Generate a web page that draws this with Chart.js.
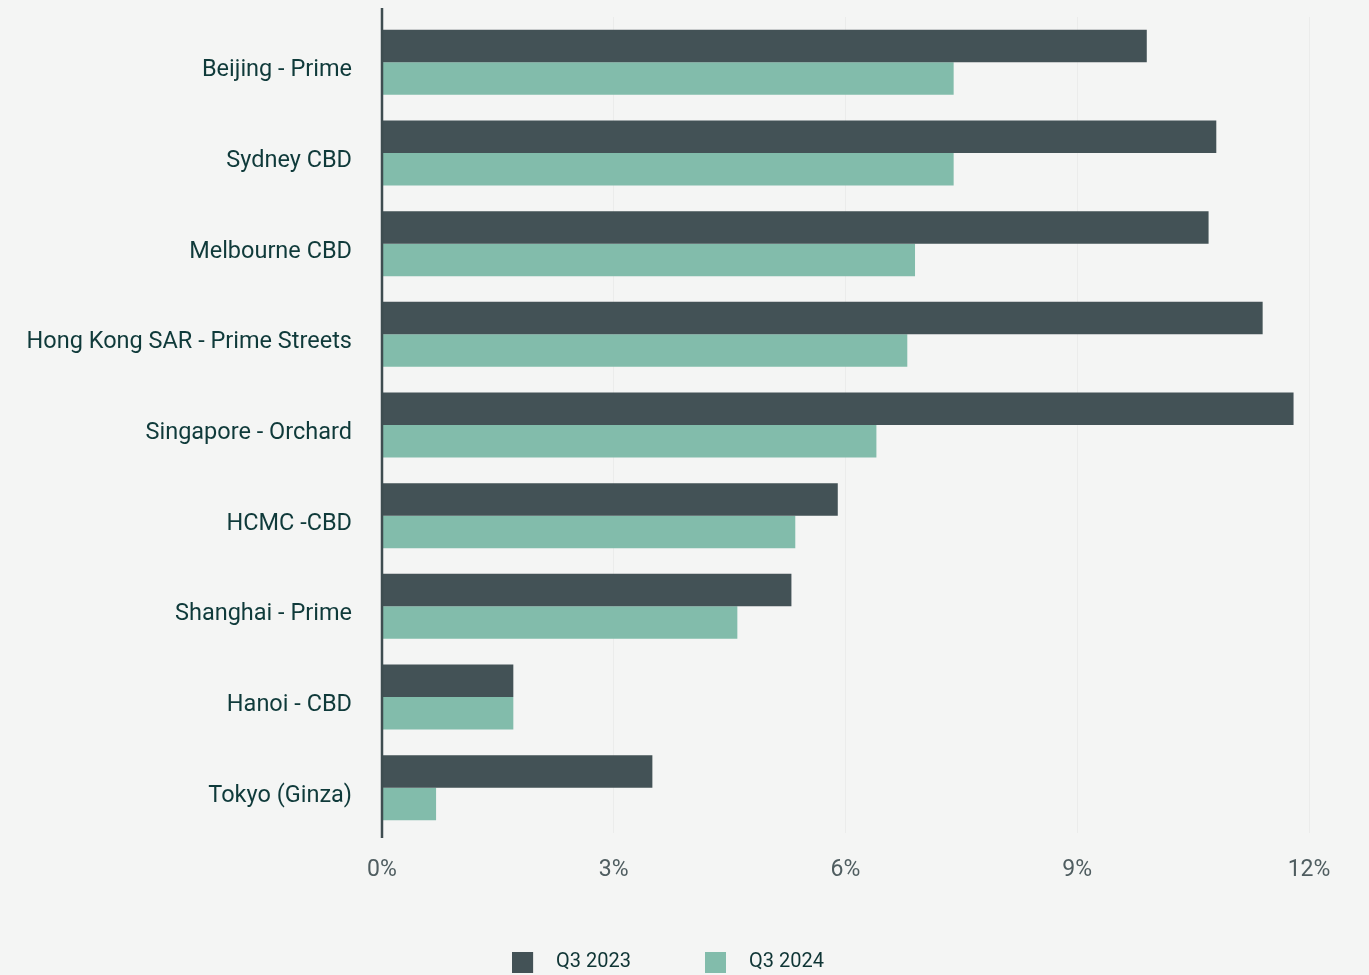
<!DOCTYPE html>
<html>
<head>
<meta charset="utf-8">
<script src="https://cdn.jsdelivr.net/npm/chart.js@4.4.1/dist/chart.umd.min.js"></script>
<style>
  html, body { margin: 0; padding: 0; background: #f4f5f4; }
  #wrap { width: 1369px; height: 975px; }
</style>
</head>
<body>
<div id="wrap"><canvas id="yields"></canvas></div>
<script>
const categories = [
  'Beijing - Prime',
  'Sydney CBD',
  'Melbourne CBD',
  'Hong Kong SAR - Prime Streets',
  'Singapore - Orchard',
  'HCMC -CBD',
  'Shanghai - Prime',
  'Hanoi - CBD',
  'Tokyo (Ginza)'
];
const q3_2023 = [9.9, 10.8, 10.7, 11.4, 11.8, 5.9, 5.3, 1.7, 3.5];
const q3_2024 = [7.4, 7.4, 6.9, 6.8, 6.4, 5.35, 4.6, 1.7, 0.7];
const xTicks = [0, 3, 6, 9, 12];

const DARK = '#435256';
const GREEN = '#82bcab';
const FONT = 'Roboto';

// legend swatch: 21px square with empty space after it, so the text sits further right
function swatch(color) {
  const c = document.createElement('canvas');
  c.width = 34;
  c.height = 21;
  const g = c.getContext('2d');
  g.fillStyle = color;
  g.fillRect(0, 0, 21, 21);
  return c;
}

// y axis line reaching a bit past the plot area
const axisLine = {
  id: 'axisLine',
  afterDatasetsDraw(chart) {
    const { ctx, chartArea, scales } = chart;
    const x = scales.x.getPixelForValue(0);
    ctx.save();
    ctx.strokeStyle = '#3e4d50';
    ctx.lineWidth = 2.5;
    ctx.beginPath();
    ctx.moveTo(x, chartArea.top - 9);
    ctx.lineTo(x, chartArea.bottom + 5);
    ctx.stroke();
    ctx.restore();
  }
};

new Chart(document.getElementById('yields'), {
  type: 'bar',
  data: {
    labels: categories,
    datasets: [
      { label: 'Q3 2023', data: q3_2023, backgroundColor: DARK },
      { label: 'Q3 2024', data: q3_2024, backgroundColor: GREEN }
    ]
  },
  options: {
    indexAxis: 'y',
    responsive: true,
    maintainAspectRatio: false,
    animation: false,
    layout: { padding: { left: 27, right: 60, top: 17, bottom: 0 } },
    datasets: {
      bar: { categoryPercentage: 0.717, barPercentage: 1.0, borderWidth: 0 }
    },
    scales: {
      x: {
        min: 0,
        max: 12,
        afterBuildTicks(scale) {
          scale.ticks = xTicks.map(v => ({ value: v }));
        },
        afterFit(scale) {
          scale.height = 45;
          scale.paddingLeft = 0;
          scale.paddingRight = 0;
        },
        border: { display: false },
        grid: { color: '#ebeceb', lineWidth: 1, drawTicks: false },
        ticks: {
          padding: 23,
          color: '#4f5d60',
          font: { family: FONT, size: 23 },
          callback: v => v + '%'
        }
      },
      y: {
        afterFit(scale) {
          scale.width = 382 - 27;
          scale.paddingTop = 0;
          scale.paddingBottom = 0;
        },
        border: { display: false },
        grid: { display: false, drawTicks: false },
        ticks: {
          padding: 30,
          labelOffset: 8,
          color: '#0f3a3a',
          font: { family: FONT, size: 23.5 }
        }
      }
    },
    plugins: {
      tooltip: { enabled: false },
      legend: {
        position: 'bottom',
        maxHeight: 97,
        labels: {
          usePointStyle: true,
          pointStyleWidth: 34,
          boxHeight: 21,
          padding: 74,
          color: '#0f3535',
          font: { family: FONT, size: 20 },
          generateLabels(chart) {
            const items = Chart.defaults.plugins.legend.labels.generateLabels(chart);
            items.forEach(it => { it.pointStyle = swatch(it.fillStyle); });
            return items;
          }
        }
      }
    }
  },
  plugins: [axisLine]
});
</script>
</body>
</html>
